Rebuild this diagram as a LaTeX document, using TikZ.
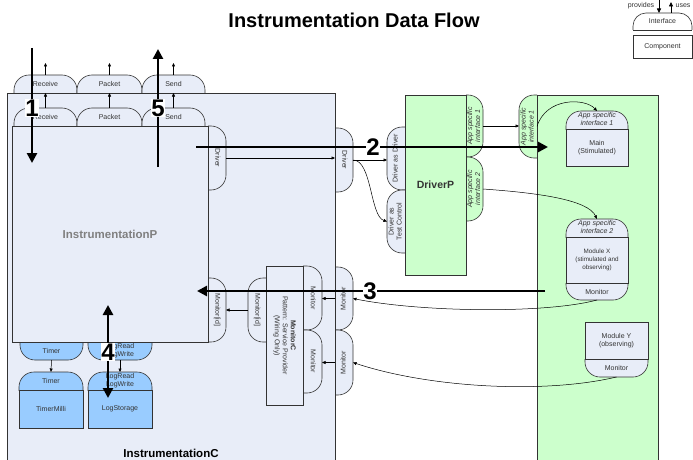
\documentclass[tikz,border=0pt]{standalone}
\usepackage{fontspec}
\setmainfont{Liberation Sans}
\usetikzlibrary{arrows.meta}

\definecolor{lav}{RGB}{232,237,248}
\definecolor{mint}{RGB}{204,255,204}
\definecolor{sky}{RGB}{153,204,255}
\definecolor{edgegray}{RGB}{51,51,51}
\definecolor{labelgray}{RGB}{128,128,128}

\newcommand\smallfnt{\fontsize{7}{8}\selectfont}
% rotated (possibly multi-line) label
\newcommand\rtxt[2]{\rotatebox{#1}{\begin{tabular}{@{}c@{}}#2\end{tabular}}}

\tikzset{
  outline/.style={draw=edgegray, line width=0.6pt},
  btext/.style={inner sep=0pt, outer sep=0pt, align=center, font=\smallfnt, text=black!80},
  wire/.style={line width=0.5pt, -{Triangle[length=3.5pt,width=3pt]}},
  legendarrow/.style={line width=0.8pt, -{Triangle[length=4.5pt,width=4pt]}},
  bigarrow/.style={line width=2.6pt, -{Triangle[length=10pt,width=10pt]}},
  bigboth/.style={line width=2.6pt, {Triangle[length=10pt,width=10pt]}-{Triangle[length=10pt,width=10pt]}},
  numlabel/.style={fill=white, inner sep=0.5pt, font=\fontsize{24}{24}\selectfont\bfseries},
}

% box node: options, name, x1, y1, x2, y2, text
\newcommand\boxn[7]{%
  \node[outline, btext, minimum width={(#5-#3)*1pt}, minimum height={(#6-#4)*1pt}, #1]
    (#2) at ({(#3+#5)/2},{(#4+#6)/2}) {#7};}

% interface bumps, rounded on the side facing away from the host box
% args: path options, name, x1, y1, x2, y2, text
\newcommand\bumpN[7]{%
  \begin{scope}\clip (#3-2,#4-2) rectangle (#5+2,#6);
    \path[outline, rounded corners=15pt, #1] (#3,#4) rectangle (#5,#6+24);\end{scope}
  \node[btext, minimum width={(#5-#3)*1pt}, minimum height={(#6-#4)*1pt}]
    (#2) at ({(#3+#5)/2},{(#4+#6)/2}) {#7};}
\newcommand\bumpS[7]{%
  \begin{scope}\clip (#3-2,#4) rectangle (#5+2,#6+2);
    \path[outline, rounded corners=15pt, #1] (#3,#4-24) rectangle (#5,#6);\end{scope}
  \node[btext, minimum width={(#5-#3)*1pt}, minimum height={(#6-#4)*1pt}]
    (#2) at ({(#3+#5)/2},{(#4+#6)/2}) {#7};}
\newcommand\bumpE[7]{%
  \begin{scope}\clip (#3,#4-2) rectangle (#5+2,#6+2);
    \path[outline, rounded corners=15pt, #1] (#3-24,#4) rectangle (#5,#6);\end{scope}
  \node[btext, minimum width={(#5-#3)*1pt}, minimum height={(#6-#4)*1pt}]
    (#2) at ({(#3+#5)/2},{(#4+#6)/2}) {#7};}
\newcommand\bumpW[7]{%
  \begin{scope}\clip (#3-2,#4-2) rectangle (#5,#6+2);
    \path[outline, rounded corners=15pt, #1] (#3,#4) rectangle (#5+24,#6);\end{scope}
  \node[btext, minimum width={(#5-#3)*1pt}, minimum height={(#6-#4)*1pt}]
    (#2) at ({(#3+#5)/2},{(#4+#6)/2}) {#7};}

\begin{document}
\begin{tikzpicture}[x=1pt,y=-1pt]
\useasboundingbox (0,0) rectangle (693,460);
\clip (0,0) rectangle (693,460);
\fill[white] (0,0) rectangle (693,460);

% title
\node (title) at (354,20) {\fontsize{20}{24}\selectfont\bfseries Instrumentation Data Flow};

% legend
\node[btext] (prov) at (641,6) {provides};
\node[btext] (uses) at (683,6) {uses};
\bumpN{fill=white, rounded corners=13pt}{lgif}{633}{13}{692}{30}{Interface}
\draw[outline] (lgif.south west) -- (lgif.south east);
\boxn{fill=white}{lgcomp}{633}{35}{692}{58}{Component}
\coordinate (provtop) at (659,0);
\coordinate (usestop) at (671,2);
\draw[legendarrow] (provtop) -- (provtop |- lgif.north);
\draw[legendarrow] (usestop |- lgif.north) -- (usestop);

% InstrumentationC: used interfaces on top, provided interfaces on the right
\bumpN{fill=lav}{cr}{14}{75}{77}{93}{Receive}
\bumpN{fill=lav}{cp}{77}{75}{142}{93}{Packet}
\bumpN{fill=lav}{cs}{142}{75}{205}{93}{Send}
\bumpE{fill=lav}{cdrv}{335}{128}{353}{192}{\rtxt{-90}{Driver}}
\bumpE{fill=lav}{cmon1}{335}{267}{353}{330}{\rtxt{90}{Monitor}}
\bumpE{fill=lav}{cmon2}{335}{330}{353}{395}{\rtxt{90}{Monitor}}
\boxn{fill=lav}{instC}{7}{93}{335}{480}{}
\node[font=\fontsize{11.5}{13}\selectfont\bfseries] (instClabel) at (171,453) {InstrumentationC};

% InstrumentationP
\bumpN{fill=lav}{pr}{14}{108}{77}{126}{Receive}
\bumpN{fill=lav}{pp}{77}{108}{142}{126}{Packet}
\bumpN{fill=lav}{ps}{142}{108}{205}{126}{Send}
\bumpE{fill=lav}{pdrv}{208}{126}{226}{190}{\rtxt{-90}{Driver}}
\bumpE{fill=lav}{pmon}{208}{278}{226}{342}{\rtxt{-90}{Monitor[id]}}
\bumpS{fill=sky}{ptimer}{20}{342}{83}{360}{Timer}
\bumpS{fill=sky}{plog}{88}{342}{152}{360}{LogRead\\LogWrite}
\boxn{fill=lav}{instP}{12}{126}{208}{342}{\textcolor{labelgray}{\fontsize{11.5}{13}\selectfont\bfseries InstrumentationP}}

% TimerMilli and LogStorage
\bumpN{fill=sky}{timerif}{19}{372}{83}{390}{Timer}
\boxn{fill=sky}{timerm}{19}{390}{83}{428}{TimerMilli}
\bumpN{fill=sky}{logif}{88}{372}{152}{390}{LogRead\\LogWrite}
\boxn{fill=sky}{logst}{88}{390}{152}{428}{LogStorage}

% MonitorC
\bumpW{fill=lav}{mcid}{248}{278}{266}{342}{\rtxt{-90}{Monitor[id]}}
\bumpE{fill=lav}{mc1}{303}{266}{322}{330}{\rtxt{-90}{Monitor}}
\bumpE{fill=lav}{mc2}{303}{330}{322}{393}{\rtxt{-90}{Monitor}}
\boxn{fill=lav}{monC}{266}{266}{303}{405}{\rtxt{-90}{\textbf{MonitorC}\\Pattern: Service Provider\\(Wiring Only)}}

% DriverP
\bumpW{fill=lav}{dd}{387}{127}{405}{190}{\rtxt{90}{Driver as Driver}}
\bumpW{fill=lav}{dtc}{387}{190}{405}{253}{\rtxt{90}{Driver as\\Test Control}}
\bumpE{fill=mint}{ap1}{466}{95}{483}{157}{{\itshape\rtxt{90}{App specific\\interface 1}}}
\bumpE{fill=mint}{ap2}{466}{157}{483}{221}{{\itshape\rtxt{90}{App specific\\interface 2}}}
\boxn{fill=mint}{drvP}{405}{95}{466}{275}{\fontsize{10.5}{12}\selectfont\bfseries DriverP}

% application under test
\bumpW{fill=mint}{gap1}{519}{95}{537}{158}{{\itshape\rtxt{90}{App specific\\interface 1}}}
\boxn{fill=mint}{appC}{537}{95}{658}{480}{}

\bumpN{fill=lav}{mainif}{566}{111}{628}{129}{{\itshape\rtxt{0}{App specific\\interface 1}}}
\boxn{fill=lav}{mainc}{566}{129}{628}{166}{Main\\(Stimulated)}

\bumpN{fill=lav}{mxif}{566}{219}{628}{237}{{\itshape\rtxt{0}{App specific\\interface 2}}}
\bumpS{fill=lav}{mxmon}{566}{283}{628}{300}{Monitor}
\boxn{fill=lav}{modX}{566}{237}{628}{283}{{\fontsize{6.3}{7.6}\selectfont\rtxt{0}{Module X\\(stimulated and\\observing)}}}

\bumpS{fill=lav}{mymon}{585}{359}{648}{377}{Monitor}
\boxn{fill=lav}{modY}{585}{322}{648}{359}{Module Y\\(observing)}

% wiring
\coordinate (crup) at ([yshift=12pt]cr.north);
\coordinate (cpup) at ([yshift=12pt]cp.north);
\coordinate (csup) at ([yshift=12pt]cs.north);
\draw[wire] (cr.north) -- (crup);
\draw[wire] (cp.north) -- (cpup);
\draw[wire] (cs.north) -- (csup);
\draw[wire] (pr.north) -- (cr.south);
\draw[wire] (pp.north) -- (cp.south);
\draw[wire] (ps.north) -- (cs.south);
\draw[wire] (ptimer.south) -- (timerif.north);
\draw[wire] (plog.south) -- (logif.north);
\draw[wire] (pdrv.east) -- (pdrv.east -| cdrv.west);
\draw[wire] (cdrv.east) -- (cdrv.east -| dd.west);
\draw[wire] (cdrv.east) .. controls (372,160) and (370,216) .. (dtc.west);
\draw[wire] (ap1.east) -- (ap1.east -| gap1.west);
\draw[wire] (gap1.east) .. controls (546,97) and (585,98) .. (mainif.north);
\draw[wire] (ap2.east) .. controls (540,193) and (588,200) .. (mxif.north);
\draw[wire] (mxmon.south) .. controls (545,314) and (420,312) .. (cmon1.east);
\draw[wire] (mymon.south) .. controls (545,394) and (430,388) .. (cmon2.east);
\draw[wire] (cmon1.west) -- (cmon1.west -| mc1.east);
\draw[wire] (cmon2.west) -- (cmon2.west -| mc2.east);
\draw[wire] (mcid.west) -- (pmon.east);

% numbered data flows
\coordinate (f1a) at (32,48);   \coordinate (f1b) at (32,163);
\coordinate (f2a) at (196,147); \coordinate (f2b) at (548,147);
\coordinate (f3a) at (545,291); \coordinate (f3b) at (197,291);
\coordinate (f4a) at (108,305); \coordinate (f4b) at (108,398);
\coordinate (f5a) at (158,167); \coordinate (f5b) at (158,49);
\draw[bigarrow] (f1a) -- (f1b);
\draw[bigarrow] (f2a) -- (f2b);
\draw[bigarrow] (f3a) -- (f3b);
\draw[bigboth] (f4a) -- (f4b);
\draw[bigarrow] (f5a) -- (f5b);
\node[numlabel] (n1) at (32,108) {1};
\node[numlabel] (n2) at (373,147) {2};
\node[numlabel] (n3) at (370,291) {3};
\node[numlabel] (n4) at (108,352) {4};
\node[numlabel] (n5) at (158,108) {5};
\end{tikzpicture}
\end{document}
